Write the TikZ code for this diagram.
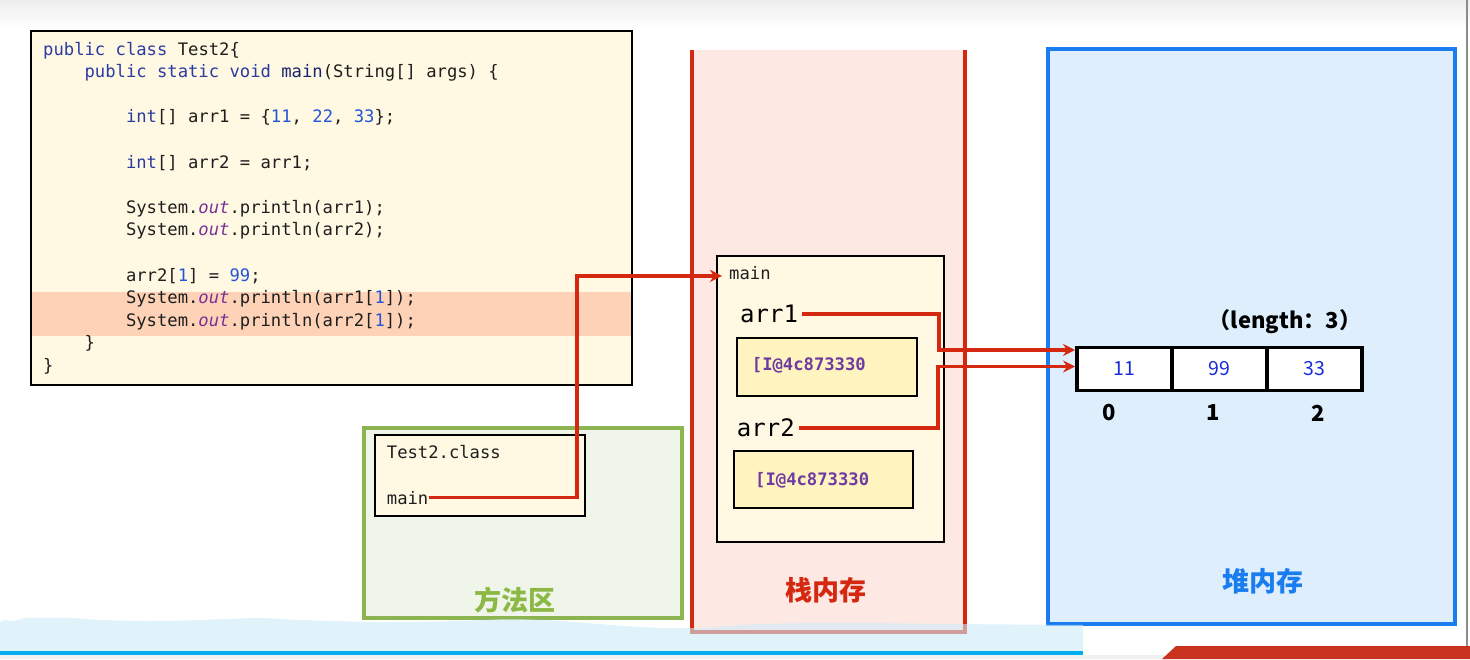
\documentclass[tikz,border=0pt]{standalone}
\usepackage{fontspec}
\setmonofont{DejaVu Sans Mono}
\newfontfamily\cjk{Noto Sans CJK SC}
\usetikzlibrary{arrows.meta,positioning}

\definecolor{kwblue}{RGB}{42,58,160}
\definecolor{mainnavy}{RGB}{25,35,110}
\definecolor{numblue}{RGB}{35,85,215}
\definecolor{outpurple}{RGB}{120,50,150}
\definecolor{codeblack}{RGB}{30,30,30}
\definecolor{cream}{RGB}{255,249,227}
\definecolor{peach}{RGB}{253,210,182}
\definecolor{mgreen}{RGB}{140,180,80}
\definecolor{mgreentext}{RGB}{140,185,70}
\definecolor{mgreenfill}{RGB}{239,245,232}
\definecolor{sred}{RGB}{212,40,16}
\definecolor{sredfill}{RGB}{253,232,228}
\definecolor{hblue}{RGB}{25,125,240}
\definecolor{hbluefill}{RGB}{222,238,252}
\definecolor{addrfill}{RGB}{255,244,192}
\definecolor{addrpurple}{RGB}{110,60,160}
\definecolor{valblue}{RGB}{25,45,215}
\definecolor{wavefill}{RGB}{205,236,248}
\definecolor{waveline}{RGB}{0,174,239}
\definecolor{bannerred}{RGB}{200,50,30}

\newcommand{\kw}[1]{\textcolor{kwblue}{#1}}
\newcommand{\numc}[1]{\textcolor{numblue}{#1}}
\newcommand{\outf}{\textcolor{outpurple}{\itshape out}}
\newcommand{\mainf}{\textcolor{mainnavy}{main}}
\newcommand{\codefont}{\ttfamily\fontsize{17.2}{20}\selectfont}

\begin{document}
\begin{tikzpicture}[x=1pt, y=-1pt, >=stealth,
    code/.style={anchor=base west, inner sep=0, font=\codefont, text=codeblack},
    region/.style={anchor=north west, inner sep=0, outer sep=0, line width=3.6pt},
    framebox/.style={anchor=north west, inner sep=0, outer sep=0, draw=black, line width=1.4pt},
    addr/.style={anchor=base west, inner sep=0, font=\ttfamily\bfseries\fontsize{17.2}{20}\selectfont, text=addrpurple},
    varname/.style={anchor=base west, inner sep=0, font=\ttfamily\fontsize{24}{28}\selectfont, text=black},
    area/.style={font=\cjk\bfseries\fontsize{27}{30}\selectfont},
    cell/.style={anchor=north west, draw=black, fill=white, line width=3.2pt, outer sep=0, inner sep=0,
      minimum width=95, minimum height=43, text=valblue, font=\cjk\fontsize{19.5}{20}\selectfont},
    idx/.style={font=\cjk\bfseries\fontsize{22}{24}\selectfont},
    ref/.style={draw=sred, line width=3.8pt, -{Stealth[length=12pt,width=12pt]}}]
  \useasboundingbox (0,0) rectangle (1470,659);
  \fill[white] (0,0) rectangle (1470,659);
  \shade[top color=black!7, bottom color=white] (0,0) rectangle (1470,28);

  % 1. code
  \node[region, fill=cream, minimum width=601, minimum height=354] (codebox) at (31,31) {};
  \fill[peach] (31.8,292) rectangle (631.2,336);
  \draw[black, line width=1.6pt] (codebox.north west) rectangle (codebox.south east);
  \node[code] (ln1) at (43,55) {\kw{public class} Test2\{};
  \node[code] (ln2) at (84.4,77.6) {\kw{public static void} \mainf(String[] args) \{};
  \node[code] (ln3) at (125.8,122.8) {\kw{int}[] arr1 = \{\numc{11}, \numc{22}, \numc{33}\};};
  \node[code] (ln4) at (125.8,168) {\kw{int}[] arr2 = arr1;};
  \node[code] (ln5) at (125.8,213.2) {System.\outf.println(arr1);};
  \node[code] (ln6) at (125.8,235.8) {System.\outf.println(arr2);};
  \node[code] (ln7) at (125.8,281) {arr2[\numc{1}] = \numc{99};};
  \node[code] (ln8) at (125.8,303.6) {System.\outf.println(arr1[\numc{1}]);};
  \node[code] (ln9) at (125.8,326.2) {System.\outf.println(arr2[\numc{1}]);};
  \node[code] (ln10) at (84.4,348.8) {\}};
  \node[code] (ln11) at (43,371.4) {\}};

  % 2. method area
  \node[region, fill=mgreenfill, draw=mgreen, minimum width=318, minimum height=190] (methodarea) at (364,428) {};
  \node[framebox, fill=cream, minimum width=210, minimum height=81] (classbox) at (375,435) {};
  \node[code] (clsname) at (386.7,458) {Test2.class};
  \node[code] (clsmain) at (386.7,504) {main};
  \node[area, text=mgreentext] (methodlabel) at (515,600) {方法区};

  % 3. stack
  \node[region, fill=sredfill, minimum width=273, minimum height=582] (stack) at (692,50) {};
  \draw[sred, line width=3.6pt] (stack.north west) -- (stack.south west) -- (stack.south east) -- (stack.north east);
  \node[framebox, fill=cream, minimum width=227, minimum height=286] (mainframe) at (717,256) {};
  \node[code] (stkmain) at (729,279.3) {main};
  \node[varname] (arr1) at (740,322.7) {arr1};
  \node[framebox, fill=addrfill, minimum width=180, minimum height=58] (addrbox1) at (737,338) {};
  \node[addr] (addr1) at (751.7,370) {[I@4c873330};
  \node[varname] (arr2) at (736.7,436.7) {arr2};
  \node[framebox, fill=addrfill, minimum width=179, minimum height=57] (addrbox2) at (734,451) {};
  \node[addr] (addr2) at (755,485) {[I@4c873330};
  \node[area, text=sred] (stacklabel) at (826,590) {栈内存};

  % 4. heap
  \node[region, fill=hbluefill, draw=hblue, minimum width=407, minimum height=575] (heap) at (1048,49) {};
  \node[cell] (cell0) at (1077,347.5) {11};
  \node[cell, right=0pt of cell0] (cell1) {99};
  \node[cell, right=0pt of cell1] (cell2) {33};
  \node[idx] (idx0) at (1109,413) {0};
  \node[idx] (idx1) at (1213,413) {1};
  \node[idx] (idx2) at (1318,413) {2};
  \node[font=\cjk\bfseries\fontsize{22}{24}\selectfont] (lenlabel) at (1285,322) {（length：3）};
  \node[area, text=hblue] (heaplabel) at (1263,581) {堆内存};

  % 5. references
  \draw[ref, shorten >=7pt] (clsmain.east) -- ++(148.5,0) |- ([yshift=-3pt]stkmain.west);
  \draw[ref, shorten <=4pt, shorten >=2pt] (arr1.east) -- ++(140.5,0) |- ([yshift=19pt]cell0.west);
  \draw[ref, shorten <=4pt, shorten >=2pt] (arr2.east) -- ++(143,0) |- ([yshift=2.5pt]cell0.west);

  % 6. slide footer
  \fill[wavefill, fill opacity=0.6] plot[smooth] coordinates {(0,622) (5,620) (15,621) (27,618) (70,618)
    (100,620) (150,621) (200,620) (260,618) (300,620) (380,622) (460,621) (510,619) (560,621)
    (640,627) (700,628) (760,624) (850,623) (950,624) (1083,625)} -- (1083,651) -- (0,651) -- cycle;
  \fill[waveline] (0,651) rectangle (1083,655);
  \fill[black!6] (0,655) rectangle (1470,659);
  \fill[bannerred] (1176,646) -- (1470,646) -- (1470,659) -- (1162,659) -- cycle;
  \draw[black!45, line width=1.5pt] (1467,0) -- (1467,646);
\end{tikzpicture}
\end{document}
